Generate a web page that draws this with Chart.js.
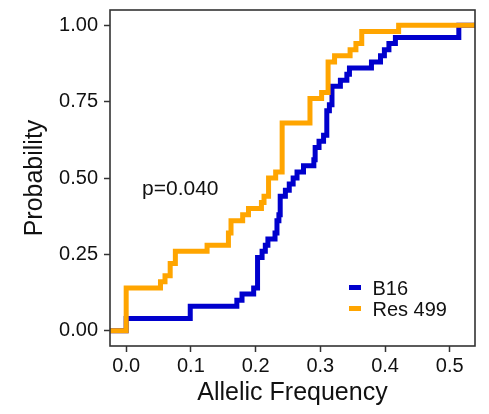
<!DOCTYPE html>
<html>
<head>
<meta charset="utf-8">
<script src="https://cdn.jsdelivr.net/npm/chart.js@4"></script>
<style>
  html, body { margin: 0; padding: 0; background: #fff; }
  #wrap { width: 489px; height: 414px; }
</style>
</head>
<body>
<div id="wrap"><canvas id="grafico" width="489" height="414"></canvas></div>
<script>
// ===== dados =====
const seriesNames = ['B16', 'Res 499'];
const seriesColors = ['#0000CD', '#FFA500'];

// B16: frequência onde a ECDF sobe e o valor depois do degrau
const b16Freq = [0, 0.099, 0.171, 0.179, 0.197, 0.203, 0.210, 0.215, 0.219, 0.230, 0.233, 0.236, 0.238,
  0.246, 0.252, 0.258, 0.264, 0.274, 0.290, 0.292, 0.298, 0.305, 0.310, 0.314, 0.318, 0.331, 0.341,
  0.345, 0.379, 0.393, 0.399, 0.406, 0.416, 0.514];
const b16Prob = [0.04, 0.08, 0.10, 0.12, 0.14, 0.24, 0.26, 0.28, 0.30, 0.32, 0.36, 0.38, 0.44,
  0.46, 0.48, 0.50, 0.52, 0.54, 0.56, 0.60, 0.62, 0.64, 0.72, 0.74, 0.80, 0.82, 0.84,
  0.86, 0.88, 0.90, 0.92, 0.94, 0.96, 1.00];

// Res 499
const resFreq = [0, 0.053, 0.060, 0.068, 0.076, 0.125, 0.158, 0.162, 0.180, 0.189, 0.209, 0.213,
  0.220, 0.231, 0.241, 0.284, 0.302, 0.312, 0.322, 0.346, 0.355, 0.364, 0.421];
const resProb = [0.14, 0.16, 0.18, 0.22, 0.26, 0.28, 0.32, 0.36, 0.38, 0.40, 0.42, 0.44,
  0.50, 0.52, 0.68, 0.76, 0.78, 0.88, 0.90, 0.92, 0.94, 0.98, 1.00];

const xTicks = [0, 0.1, 0.2, 0.3, 0.4, 0.5];
const xTickLabels = ['0.0', '0.1', '0.2', '0.3', '0.4', '0.5'];
const yTicks = [0, 0.25, 0.5, 0.75, 1];
const yTickLabels = ['0.00', '0.25', '0.50', '0.75', '1.00'];

const xMin = -0.025, xMax = 0.539;
const yMin = -0.05, yMax = 1.05;

const pText = 'p=0.040';
const FONT = '"Liberation Sans", Arial, Helvetica, sans-serif';

// monta os pontos da ECDF (com as pontas -Inf/+Inf como no ggplot)
function montarEcdf(freq, prob) {
  const pts = [{ x: xMin, y: 0 }];
  freq.forEach((f, i) => pts.push({ x: f, y: prob[i] }));
  pts.push({ x: xMax, y: 1 });
  return pts;
}

// moldura do painel, legenda e texto do p-valor
const extras = {
  id: 'extras',
  afterDatasetsDraw(chart) {
    const { ctx, chartArea: a, scales } = chart;
    ctx.save();
    ctx.strokeStyle = '#333';
    ctx.lineWidth = 1.6;
    ctx.strokeRect(a.left, a.top, a.right - a.left, a.bottom - a.top);

    // p-valor
    ctx.fillStyle = '#111';
    ctx.font = '21px ' + FONT;
    ctx.textAlign = 'left';
    ctx.textBaseline = 'alphabetic';
    ctx.fillText(pText, scales.x.getPixelForValue(0.0245), scales.y.getPixelForValue(0.444));

    // legenda
    ctx.font = '20px ' + FONT;
    const keyX = a.right - 126;
    const rows = [a.bottom - 58.5, a.bottom - 37.5];
    seriesNames.forEach((nome, i) => {
      ctx.fillStyle = seriesColors[i];
      ctx.fillRect(keyX, rows[i] - 2.5, 12, 5);
      ctx.fillStyle = '#111';
      ctx.fillText(nome, keyX + 23.5, rows[i] + 7);
    });
    ctx.restore();
  }
};

const ctx = document.getElementById('grafico');

new Chart(ctx, {
  type: 'line',
  data: {
    datasets: [
      {
        label: seriesNames[0],
        data: montarEcdf(b16Freq, b16Prob),
        borderColor: seriesColors[0],
        borderWidth: 5,
        stepped: 'before',
        pointRadius: 0,
        fill: false,
        order: 2,
        borderJoinStyle: 'miter',
        borderCapStyle: 'butt'
      },
      {
        label: seriesNames[1],
        data: montarEcdf(resFreq, resProb),
        borderColor: seriesColors[1],
        borderWidth: 5,
        stepped: 'before',
        pointRadius: 0,
        fill: false,
        order: 1,
        borderJoinStyle: 'miter',
        borderCapStyle: 'butt'
      }
    ]
  },
  options: {
    responsive: false,
    animation: false,
    layout: { padding: { top: 10, right: 14, left: 0, bottom: 0 } },
    plugins: {
      legend: { display: false },
      tooltip: { enabled: false }
    },
    scales: {
      x: {
        type: 'linear',
        min: xMin,
        max: xMax,
        afterBuildTicks: s => { s.ticks = xTicks.map(v => ({ value: v })); },
        afterFit: s => { s.height = 68; s.paddingLeft = 0; s.paddingRight = 0; },
        grid: { drawOnChartArea: false, drawTicks: true, tickLength: 6, tickColor: '#333', tickWidth: 1.5 },
        border: { display: false },
        ticks: {
          autoSkip: false,
          maxRotation: 0,
          padding: 2,
          color: '#111',
          font: { family: FONT, size: 20 },
          callback: v => xTickLabels[xTicks.indexOf(v)]
        },
        title: {
          display: true,
          text: 'Allelic Frequency',
          color: '#111',
          font: { family: FONT, size: 25 },
          padding: { top: 0, bottom: 6 }
        }
      },
      y: {
        type: 'linear',
        min: yMin,
        max: yMax,
        afterBuildTicks: s => { s.ticks = yTicks.map(v => ({ value: v })); },
        afterFit: s => { s.width = 110; s.paddingTop = 0; s.paddingBottom = 0; },
        grid: { drawOnChartArea: false, drawTicks: true, tickLength: 6, tickColor: '#333', tickWidth: 1.5 },
        border: { display: false },
        ticks: {
          autoSkip: false,
          padding: 6,
          color: '#111',
          font: { family: FONT, size: 20 },
          callback: v => yTickLabels[yTicks.indexOf(v)]
        },
        title: {
          display: true,
          text: 'Probability',
          color: '#111',
          font: { family: FONT, size: 25 },
          padding: { top: 20, bottom: 0 }
        }
      }
    }
  },
  plugins: [extras]
});
</script>
</body>
</html>
